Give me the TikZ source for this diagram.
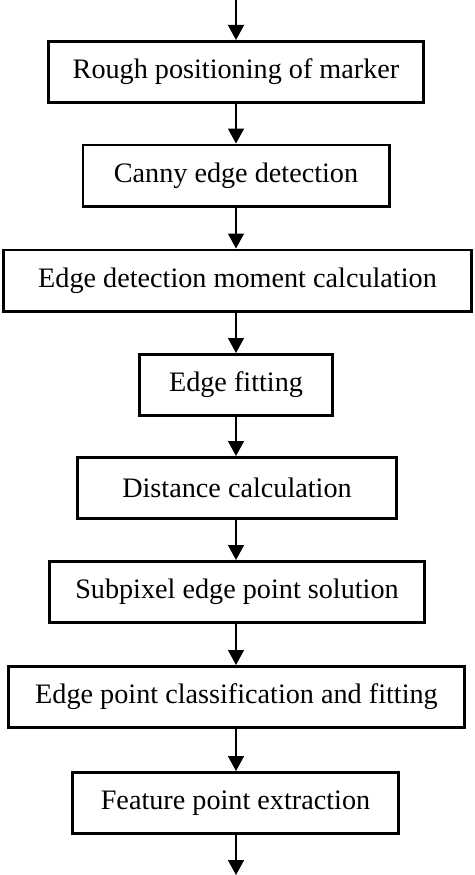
\documentclass[tikz,border=0pt]{standalone}
\usepackage{fontspec}
\setmainfont{Liberation Serif}
\usetikzlibrary{arrows.meta}
\tikzset{
  stepbox/.style={draw, line width=2.7pt, minimum height=61.3pt, inner sep=0pt,
    font=\fontsize{28.2}{34}\selectfont, anchor=center},
  flow/.style={line width=1.4pt, -{Triangle[width=16pt,length=15pt]}}
}
\begin{document}
\begin{tikzpicture}[x=1pt,y=1pt]
\useasboundingbox (0,0) rectangle (474,-875);
\coordinate (top) at (236,0);
\coordinate (bot) at (236,-875);
\node[stepbox, minimum width=375.3pt] (b1) at (236,-72) {Rough positioning of marker};
\node[stepbox, minimum width=306.3pt] (b2) at (236,-175.5) {Canny edge detection};
\node[stepbox, minimum width=468.3pt] (b3) at (237.5,-280.5) {Edge detection moment calculation};
\node[stepbox, minimum width=193.3pt] (b4) at (236,-385) {Edge fitting};
\node[stepbox, minimum width=319.3pt] (b5) at (237,-488) {Distance calculation};
\node[stepbox, minimum width=375.3pt] (b6) at (237,-592) {Subpixel edge point solution};
\node[stepbox, minimum width=456.3pt] (b7) at (236.5,-697) {Edge point classification and fitting};
\node[stepbox, minimum width=326.3pt] (b8) at (235.5,-803) {Feature point extraction};
\draw[flow] (top) -- (b1.north -| top);
\draw[flow] (b1.south -| top) -- (b2.north -| top);
\draw[flow] (b2.south -| top) -- (b3.north -| top);
\draw[flow] (b3.south -| top) -- (b4.north -| top);
\draw[flow] (b4.south -| top) -- (b5.north -| top);
\draw[flow] (b5.south -| top) -- (b6.north -| top);
\draw[flow] (b6.south -| top) -- (b7.north -| top);
\draw[flow] (b7.south -| top) -- (b8.north -| top);
\draw[flow] (b8.south -| top) -- (bot);
\end{tikzpicture}
\end{document}
